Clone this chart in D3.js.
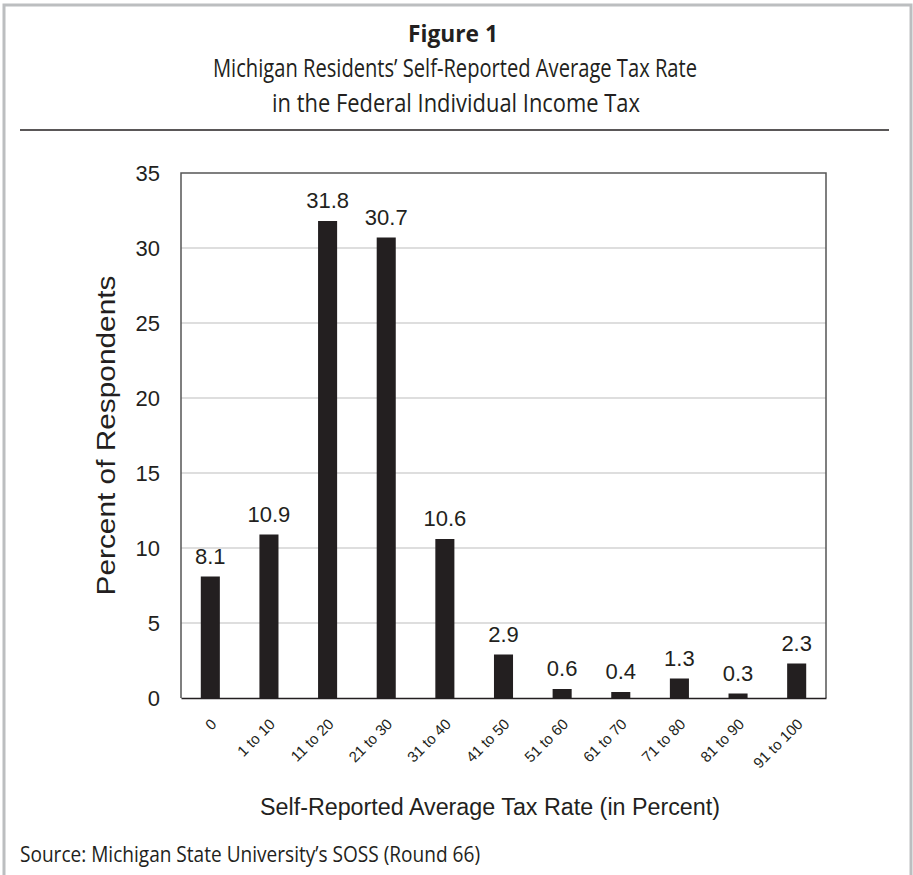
<!DOCTYPE html>
<html>
<head>
<meta charset="utf-8">
<script src="https://cdn.jsdelivr.net/npm/d3@7"></script>
<style>
  body { margin: 0; background: #fff; }
  svg { display: block; }
</style>
</head>
<body>
<svg id="chart" width="913" height="875"></svg>
<script>
const categories = ['0', '1 to 10', '11 to 20', '21 to 30', '31 to 40', '41 to 50',
  '51 to 60', '61 to 70', '71 to 80', '81 to 90', '91 to 100'];
const percents = [8.1, 10.9, 31.8, 30.7, 10.6, 2.9, 0.6, 0.4, 1.3, 0.3, 2.3];
const yTicks = [0, 5, 10, 15, 20, 25, 30, 35];

const width = 913;
const height = 875;
const margin = { top: 173, right: 87, bottom: 177, left: 181 };

const svg = d3.select('#chart');
const titleFont = '"Open Sans", "Noto Sans", sans-serif';
const chartFont = '"Liberation Sans", Arial, sans-serif';
const ink = '#231f20';

// outer frame
svg.append('rect')
  .attr('x', 4).attr('y', 5)
  .attr('width', width - 6).attr('height', height)
  .attr('fill', 'none').attr('stroke', '#bcbec0').attr('stroke-width', 3);

// heading
svg.append('text')
  .attr('x', 453).attr('y', 42)
  .attr('text-anchor', 'middle')
  .attr('font-family', titleFont).attr('font-weight', 'bold').attr('font-size', 24)
  .attr('fill', ink)
  .attr('textLength', 90).attr('lengthAdjust', 'spacingAndGlyphs')
  .text('Figure 1');

svg.append('text')
  .attr('x', 455).attr('y', 77)
  .attr('text-anchor', 'middle')
  .attr('font-family', titleFont).attr('font-size', 25)
  .attr('fill', ink)
  .attr('textLength', 484).attr('lengthAdjust', 'spacingAndGlyphs')
  .text('Michigan Residents\u2019 Self-Reported Average Tax Rate');

svg.append('text')
  .attr('x', 456).attr('y', 112)
  .attr('text-anchor', 'middle')
  .attr('font-family', titleFont).attr('font-size', 25)
  .attr('fill', ink)
  .attr('textLength', 368).attr('lengthAdjust', 'spacingAndGlyphs')
  .text('in the Federal Individual Income Tax');

svg.append('line')
  .attr('x1', 20).attr('x2', 889)
  .attr('y1', 130).attr('y2', 130)
  .attr('stroke', ink).attr('stroke-width', 1.5);

const x = d3.scaleBand()
  .domain(categories)
  .range([margin.left, width - margin.right])
  .paddingInner(0.675)
  .paddingOuter(0.3375);

const y = d3.scaleLinear()
  .domain([0, 35])
  .range([height - margin.bottom, margin.top]);

// gridlines
svg.append('g')
  .selectAll('line')
  .data(yTicks.filter((d) => d > 0 && d < 35))
  .join('line')
  .attr('x1', margin.left).attr('x2', width - margin.right)
  .attr('y1', (d) => y(d)).attr('y2', (d) => y(d))
  .attr('stroke', '#bdbdbd').attr('stroke-width', 1.2);

// plot border (top, left, right)
svg.append('path')
  .attr('d', `M${margin.left},${y(0)}V${y(35)}H${width - margin.right}V${y(0)}`)
  .attr('fill', 'none').attr('stroke', '#555').attr('stroke-width', 1.5);

// bars
svg.append('g')
  .attr('fill', ink)
  .selectAll('rect')
  .data(percents)
  .join('rect')
  .attr('x', (d, i) => x(categories[i]))
  .attr('y', (d) => y(d))
  .attr('width', x.bandwidth())
  .attr('height', (d) => y(0) - y(d));

// value labels
svg.append('g')
  .selectAll('text')
  .data(percents)
  .join('text')
  .attr('x', (d, i) => x(categories[i]) + x.bandwidth() / 2)
  .attr('y', (d) => y(d) - 13)
  .attr('text-anchor', 'middle')
  .attr('font-family', chartFont).attr('font-size', 22)
  .attr('fill', ink)
  .text((d) => d.toFixed(1));

// x axis
const xAxis = svg.append('g')
  .attr('transform', `translate(0,${y(0)})`)
  .call(d3.axisBottom(x).tickSize(0).tickPadding(0));
xAxis.select('.domain').attr('stroke', ink).attr('stroke-width', 1.5);
xAxis.selectAll('text')
  .attr('font-family', chartFont).attr('font-size', 15).attr('fill', ink)
  .attr('text-anchor', 'end')
  .attr('dy', 0)
  .attr('transform', 'translate(7,27) rotate(-45)');

// y axis
const yAxis = svg.append('g')
  .attr('transform', `translate(${margin.left},0)`)
  .call(d3.axisLeft(y).tickValues(yTicks).tickSize(0).tickPadding(21));
yAxis.select('.domain').remove();
yAxis.selectAll('text')
  .attr('font-family', chartFont).attr('font-size', 22).attr('fill', ink);

// axis titles
svg.append('text')
  .attr('transform', `translate(115,${(y(0) + y(35)) / 2}) rotate(-90)`)
  .attr('text-anchor', 'middle')
  .attr('font-family', chartFont).attr('font-size', 25)
  .attr('fill', ink)
  .attr('textLength', 320).attr('lengthAdjust', 'spacingAndGlyphs')
  .text('Percent of Respondents');

svg.append('text')
  .attr('x', 490).attr('y', 815)
  .attr('text-anchor', 'middle')
  .attr('font-family', chartFont).attr('font-size', 23)
  .attr('fill', ink)
  .attr('textLength', 460).attr('lengthAdjust', 'spacingAndGlyphs')
  .text('Self-Reported Average Tax Rate (in Percent)');

svg.append('text')
  .attr('x', 20).attr('y', 862)
  .attr('font-family', titleFont).attr('font-size', 21)
  .attr('fill', ink)
  .attr('textLength', 460).attr('lengthAdjust', 'spacingAndGlyphs')
  .text('Source: Michigan State University\u2019s SOSS (Round 66)');
</script>
</body>
</html>
